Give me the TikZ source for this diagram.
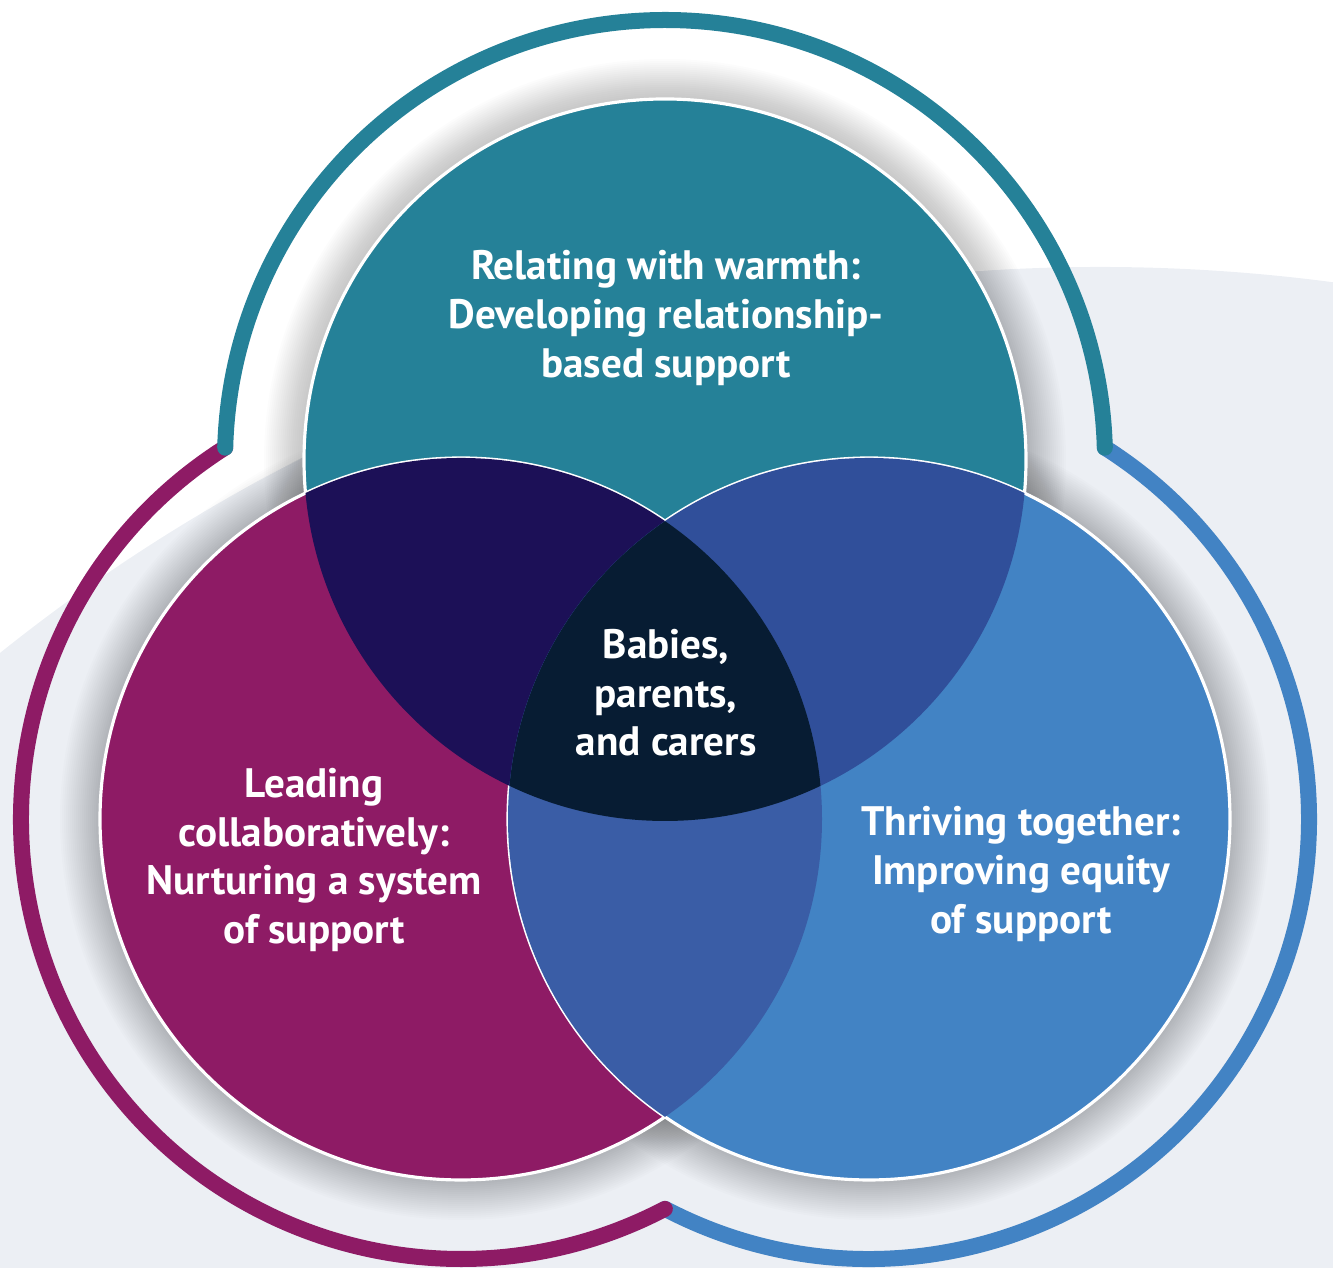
\documentclass[tikz,border=0pt]{standalone}
\usepackage{fontspec}
\setmainfont{PT Sans}
\usepackage{tikz}

\definecolor{warmteal}{RGB}{37,129,152}
\definecolor{leadplum}{RGB}{142,27,101}
\definecolor{thriveblue}{RGB}{66,131,196}
\definecolor{tealplum}{RGB}{28,16,87}
\definecolor{tealblue}{RGB}{48,79,154}
\definecolor{plumblue}{RGB}{58,93,166}
\definecolor{corenavy}{RGB}{7,28,51}
\definecolor{backdrop}{RGB}{236,239,244}

\tikzset{
    ring/.style={line width=1.6mm, line cap=round},
    petal/.style={draw=white, line width=0.9pt},
    circletext/.style={text=white, align=center,
        font=\bfseries\fontsize{11.7}{13.8}\selectfont},
}

\begin{document}
\begin{tikzpicture}[x=0.01cm, y=0.01cm]

\useasboundingbox (0,0) rectangle (1333,1268);

% Centres dels cercles
\coordinate (warmth) at (665,808);
\coordinate (leading) at (461,449);
\coordinate (thriving) at (869,449);

% Fons gris
\begin{scope}
    \clip (0,0) rectangle (1333,1268);
    \fill[backdrop] (1100,-759) circle (1760);
\end{scope}

% Anells exteriors (blau, després lila, després verd)
\draw[
    ring,
    thriveblue
] (thriving) ++(242.4:440) arc[start angle=242.4, end angle=417.6, radius=440];
\draw[
    ring,
    leadplum
] (leading) ++(122.4:440) arc[start angle=122.4, end angle=297.6, radius=440];
\draw[
    ring,
    warmteal
] (warmth) ++(1.6:440) arc[start angle=1.6, end angle=178.4, radius=440];

% Ombra suau
\foreach \c in {warmth,leading,thriving}
    \foreach \k in {1,...,20}
        \fill[black, opacity=0.012] (\c) circle (361+2*\k);

% Cercles
\filldraw[petal, fill=warmteal] (warmth) circle (361);
\filldraw[petal, fill=leadplum] (leading) circle (361);
\filldraw[petal, fill=thriveblue] (thriving) circle (361);

% Interseccions
\begin{scope}
    \clip (warmth) circle (361);
    \fill[tealplum] (leading) circle (361);
    \fill[tealblue] (thriving) circle (361);
\end{scope}
\begin{scope}
    \clip (leading) circle (361);
    \fill[plumblue] (thriving) circle (361);
    \clip (warmth) circle (361);
    \fill[corenavy] (thriving) circle (361);
\end{scope}

% Textos
\node[circletext] (warmthtext) at (666,950)
    {Relating with warmth:\\Developing relationship-\\based support};
\node[circletext] (coretext) at (666,575)
    {Babies,\\parents,\\and carers};
\node[circletext] (leadingtext) at (314,408)
    {Leading\\collaboratively:\\Nurturing a system\\of support};
\node[circletext] (thrivingtext) at (1021,394)
    {Thriving together:\\Improving equity\\of support};

\end{tikzpicture}
\end{document}
